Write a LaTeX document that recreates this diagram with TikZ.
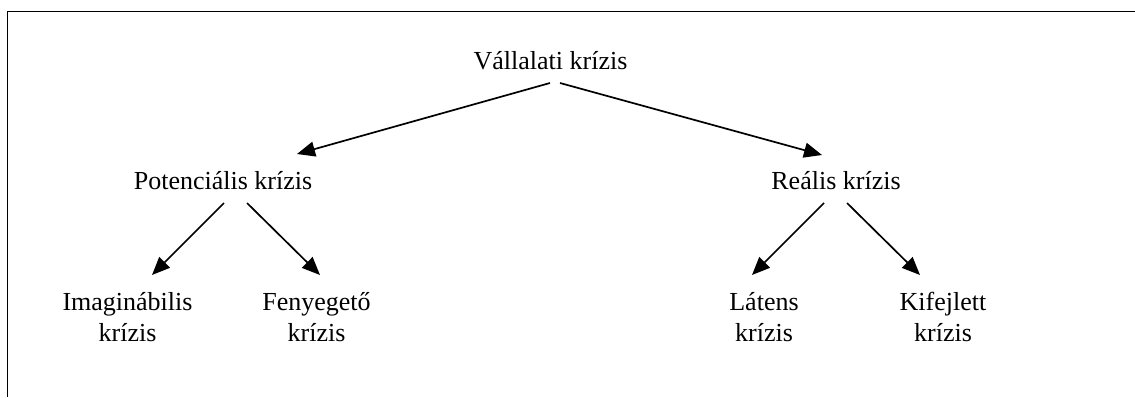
\documentclass[tikz,border=0pt]{standalone}
\usepackage{fontspec}
\setmainfont{Liberation Serif}
\usetikzlibrary{arrows.meta}
\tikzset{
  lbl/.style={inner sep=0pt, anchor=base, align=center, font=\fontsize{26}{31}\selectfont},
  conn/.style={line width=1.7pt, -{Triangle[length=18pt,width=15pt]}},
  frame/.style={line width=1.9pt}
}
\begin{document}
\begin{tikzpicture}[x=1pt,y=-1pt]
\useasboundingbox (0,0) rectangle (1135,397);
\draw[frame] (7.5,397) -- (7.5,11.5) -- (1135,11.5);
\node[lbl] (top) at (550.5,69) {Vállalati krízis};
\node[lbl] (pot) at (223,189) {Potenciális krízis};
\node[lbl] (real) at (836,189) {Reális krízis};
\node[lbl] (imag) at (127.5,341) {Imaginábilis\\krízis};
\node[lbl] (fen) at (316.5,341) {Fenyegető\\krízis};
\node[lbl] (lat) at (764,341) {Látens\\krízis};
\node[lbl] (kif) at (943,341) {Kifejlett\\krízis};
\draw[conn] ([shift={(-0.5,14)}]top.base) -- ([shift={(74,-35)}]pot.base);
\draw[conn] ([shift={(9.5,14)}]top.base) -- ([shift={(-14,-34)}]real.base);
\draw[conn] ([shift={(1,14)}]pot.base) -- ([shift={(24.5,-66)}]imag.base);
\draw[conn] ([shift={(24,14)}]pot.base) -- ([shift={(3.5,-66)}]fen.base);
\draw[conn] ([shift={(-12,14)}]real.base) -- ([shift={(-12,-66)}]lat.base);
\draw[conn] ([shift={(11,14)}]real.base) -- ([shift={(-23,-66)}]kif.base);
\end{tikzpicture}
\end{document}
